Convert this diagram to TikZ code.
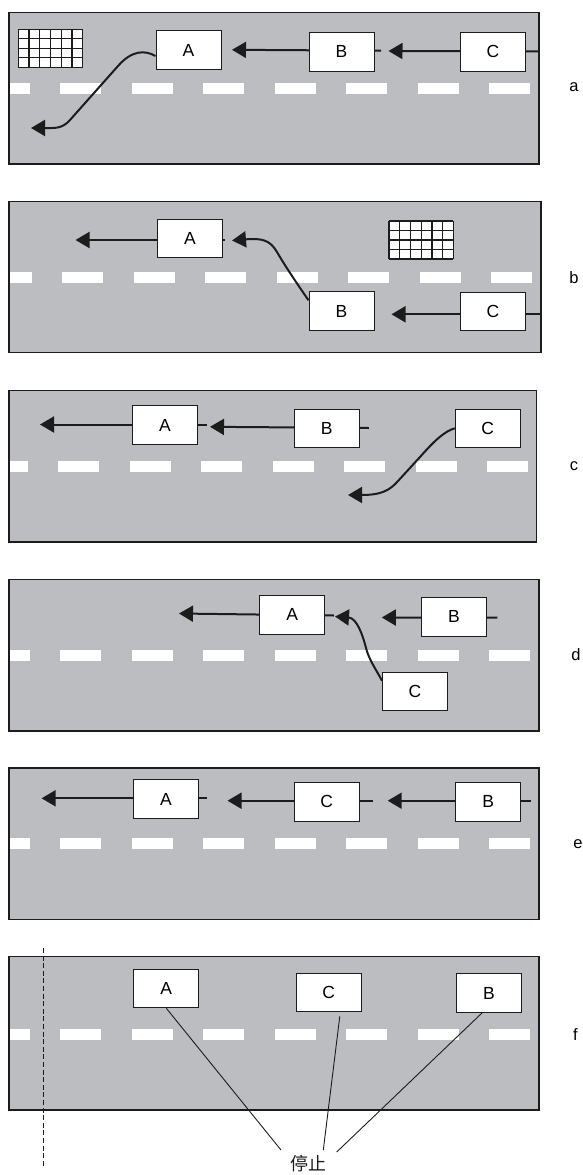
\documentclass[tikz,border=0pt]{standalone}
\usepackage{fontspec}
\setmainfont{Liberation Sans}
\newfontfamily\cjk{Noto Sans CJK SC}
\usetikzlibrary{arrows.meta,calc}
\definecolor{roadgray}{RGB}{188,189,193}
\definecolor{ink}{RGB}{28,28,28}

% white centre-lane dashes of one road: #1 = y of the lane line, #2 = x shift
\newcommand\roadmarks[2]{%
  \fill[white] (10,#1-5.3) rectangle (29.7+#2,#1+5.3);
  \foreach \i in {0,...,6}{%
    \fill[white] ({60+#2+71.5*\i},#1-5.3) rectangle ({101+#2+71.5*\i},#1+5.3);}%
}
% signboard grid, 6 x 4 cells: #1,#2 = top left corner
\newcommand\gridsign[2]{%
  \fill[white] (#1,#2) rectangle ++(64.4,38);
  \foreach \k in {0,...,6}{\draw[ink,line width=1.3pt] ({#1+10.733*\k},#2) -- ++(0,38);}
  \foreach \k in {0,...,4}{\draw[ink,line width=1.3pt] (#1,{#2+9.5*\k}) -- ++(64.4,0);}
}

\begin{document}
\begin{tikzpicture}[x=1pt,y=-1pt,
  road/.style={fill=roadgray,draw=ink,line width=1.2pt},
  car/.style={draw=ink,fill=white,line width=1pt,minimum width=65pt,
    minimum height=38.5pt,inner sep=0pt,font=\fontsize{17.5}{19}\selectfont},
  track/.style={draw=ink,line width=2pt,-{Triangle[length=14pt,width=16pt]}},
  panel label/.style={font=\fontsize{16.5}{18}\selectfont},
  leader/.style={draw=ink,line width=0.9pt},
]
\useasboundingbox (0,0) rectangle (583,1175);

% ---------- a ----------
\draw[road] (9,12.7) rectangle (539,164);
\roadmarks{88.7}{0}
\gridsign{18.3}{29.3}
\coordinate (a-Ctail) at (539,51.5);  \coordinate (a-Chead) at (388.5,51);
\coordinate (a-Btail) at (381,50.7);  \coordinate (a-Bhead) at (232,49.8);
\coordinate (a-Ahead) at (31,128);
\draw[track] (a-Ctail) -- (a-Chead);
\draw[track] (a-Btail) -- (a-Bhead);
\node[car] (a-A) at (188.5,50) {A};
\node[car] (a-B) at (341.5,51.8) {B};
\node[car] (a-C) at (493,51.8) {C};
\draw[track] ($(a-A.west)+(0,6)$) .. controls (145,50) and (132,50) .. (118,66)
  -- (70,120) .. controls (62,129) and (55,128) .. (a-Ahead);
\node[panel label] (la) at (574,87.5) {a};

% ---------- b ----------
\draw[road] (9,201.7) rectangle (541,352.7);
\roadmarks{277.7}{2}
\gridsign{389}{221}
\coordinate (b-Atail) at (225,240);   \coordinate (b-Ahead) at (75.5,240);
\coordinate (b-Ctail) at (541,314.3); \coordinate (b-Chead) at (391.5,314.3);
\coordinate (b-Bhead) at (232,240.5);
\draw[track] (b-Atail) -- (b-Ahead);
\draw[track] (b-Ctail) -- (b-Chead);
\node[car] (b-A) at (190,238.5) {A};
\node[car] (b-B) at (341.5,311) {B};
\node[car] (b-C) at (493,311.3) {C};
\draw[track] ($(b-B.north west)+(0,9)$) .. controls (300,288) and (285,266) .. (277,252)
  .. controls (270,240) and (262,238) .. (b-Bhead);
\node[panel label] (lb) at (574,277.7) {b};

% ---------- c ----------
\draw[road] (9,390.7) rectangle (536.5,542);
\roadmarks{466.3}{-2}
\coordinate (c-Atail) at (207,424.5); \coordinate (c-Ahead) at (40,424.5);
\coordinate (c-Btail) at (368.8,428); \coordinate (c-Bhead) at (210,426.8);
\coordinate (c-Chead) at (348,495);
\draw[track] (c-Atail) -- (c-Ahead);
\draw[track] (c-Btail) -- (c-Bhead);
\node[car] (c-A) at (164.9,425.2) {A};
\node[car] (c-B) at (326.6,428.3) {B};
\node[car] (c-C) at (487.8,428.3) {C};
\draw[track] (c-C.west) .. controls (445,431) and (435,440) .. (420,457)
  -- (398,481) .. controls (390,490) and (382,495) .. (c-Chead);
\node[panel label] (lc) at (574,466) {c};

% ---------- d ----------
\draw[road] (9,579.3) rectangle (539,731);
\roadmarks{655.5}{0}
\coordinate (d-Atail) at (334,615.5);   \coordinate (d-Ahead) at (179,613.5);
\coordinate (d-Btail) at (497.4,617.7); \coordinate (d-Bhead) at (381.8,617.5);
\coordinate (d-Chead) at (335,616.5);
\draw[track] (d-Atail) -- (d-Ahead);
\draw[track] (d-Btail) -- (d-Bhead);
\node[car] (d-A) at (292.2,614.8) {A};
\node[car] (d-B) at (454,616.8) {B};
\node[car] (d-C) at (415,691.5) {C};
\draw[track] ($(d-C.north west)+(0,9)$) .. controls (377,671) and (369,660) .. (366,648)
  .. controls (363,636) and (357,618) .. (d-Chead);
\node[panel label] (ld) at (576,655) {d};

% ---------- e ----------
\draw[road] (9,768) rectangle (539,919.3);
\roadmarks{843.7}{0}
\coordinate (e-Atail) at (207,798.3);   \coordinate (e-Ahead) at (41.6,798.3);
\coordinate (e-Ctail) at (372.9,800.7); \coordinate (e-Chead) at (227.5,800.7);
\coordinate (e-Btail) at (530.9,800.7); \coordinate (e-Bhead) at (387.7,800.7);
\draw[track] (e-Atail) -- (e-Ahead);
\draw[track] (e-Ctail) -- (e-Chead);
\draw[track] (e-Btail) -- (e-Bhead);
\node[car] (e-A) at (165.9,799.2) {A};
\node[car] (e-C) at (326.6,801.8) {C};
\node[car] (e-B) at (488.2,801.8) {B};
\node[panel label] (le) at (578,844) {e};

% ---------- f ----------
\draw[road] (9,956.7) rectangle (539,1110);
\roadmarks{1034.7}{0}
\node[car] (f-A) at (166.3,988.5) {A};
\node[car] (f-C) at (328.8,992.5) {C};
\node[car] (f-B) at (489,993.2) {B};
\node[font=\cjk\fontsize{18}{20}\selectfont,text=ink] (stop) at (308.6,1164) {停止};
\coordinate (f-endA) at (281,1150);
\coordinate (f-endC) at (323.3,1150);
\coordinate (f-endB) at (336.7,1152);
\draw[leader] (f-A.south) -- (f-endA);
\draw[leader] ($(f-C.south)+(11,4)$) -- (f-endC);
\draw[leader] ($(f-B.south)+(-7,0)$) -- (f-endB);
\coordinate (cut-top) at (43.5,948);
\coordinate (cut-bot) at (43.5,1168);
\draw[ink,line width=1.2pt,dash pattern=on 5pt off 2.6pt] (cut-top) -- (cut-bot);
\node[panel label] (lf) at (575.5,1035) {f};
\end{tikzpicture}
\end{document}
